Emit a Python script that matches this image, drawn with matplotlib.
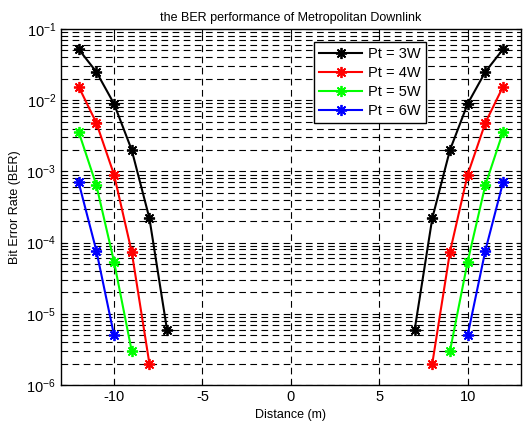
import matplotlib.pyplot as plt
import numpy as np

plt.rcParams['font.family'] = ['Liberation Sans', 'DejaVu Sans']
plt.rcParams['mathtext.fontset'] = 'custom'
plt.rcParams['mathtext.rm'] = 'Liberation Sans'
plt.rcParams['axes.unicode_minus'] = False

labels = ['Pt = 3W', 'Pt = 4W', 'Pt = 5W', 'Pt = 6W']
colors = ['k', 'r', '#00ff00', 'b']
dist_left = [[-12, -11, -10, -9, -8, -7],
             [-12, -11, -10, -9, -8],
             [-12, -11, -10, -9],
             [-12, -11, -10]]
ber = [[5.2e-2, 2.5e-2, 8.9e-3, 2.0e-3, 2.2e-4, 5.9e-6],
       [1.55e-2, 4.8e-3, 9.0e-4, 7.4e-5, 2.0e-6],
       [3.6e-3, 6.4e-4, 5.4e-5, 3.0e-6],
       [7.0e-4, 7.7e-5, 5.0e-6]]

fig = plt.figure(figsize=(5.23, 4.24), dpi=100)
ax = fig.add_axes([0.1166, 0.092, 0.879, 0.8396])

star = (8, 2, 0)
for i in range(4):
    xl = np.array(dist_left[i])
    ax.semilogy(xl, ber[i], color=colors[i], marker=star, markersize=8,
                markeredgewidth=1.3, linewidth=1.5, label=labels[i])
    ax.semilogy(-xl, ber[i], color=colors[i], marker=star, markersize=8,
                markeredgewidth=1.3, linewidth=1.5)

ax.set_xlim(-13, 13)
ax.set_ylim(1e-6, 1e-1)
ax.set_xticks([-10, -5, 0, 5, 10])
ax.grid(True, which='major', color='k', linestyle=(0, (6, 4)), linewidth=0.8)
ax.grid(True, which='minor', axis='y', color='k', linestyle=(0, (6, 4)), linewidth=0.8)
ax.tick_params(which='both', direction='in', top=True, right=True, labelsize=10.5)
ax.tick_params(axis='y', which='minor', labelleft=False)
for s in ax.spines.values():
    s.set_linewidth(1.0)

ax.set_title('the BER performance of Metropolitan Downlink', fontsize=9)
ax.set_xlabel('Distance (m)', fontsize=9)
ax.set_ylabel('Bit Error Rate (BER)', fontsize=9)

leg = ax.legend(loc='upper right', bbox_to_anchor=(0.81, 0.985), fontsize=10.5,
                fancybox=False, framealpha=1, edgecolor='k', handlelength=3.0,
                borderpad=0.35, labelspacing=0.35, handletextpad=0.4)
leg.get_frame().set_linewidth(1.0)

fig.savefig('out.png', dpi=100)
